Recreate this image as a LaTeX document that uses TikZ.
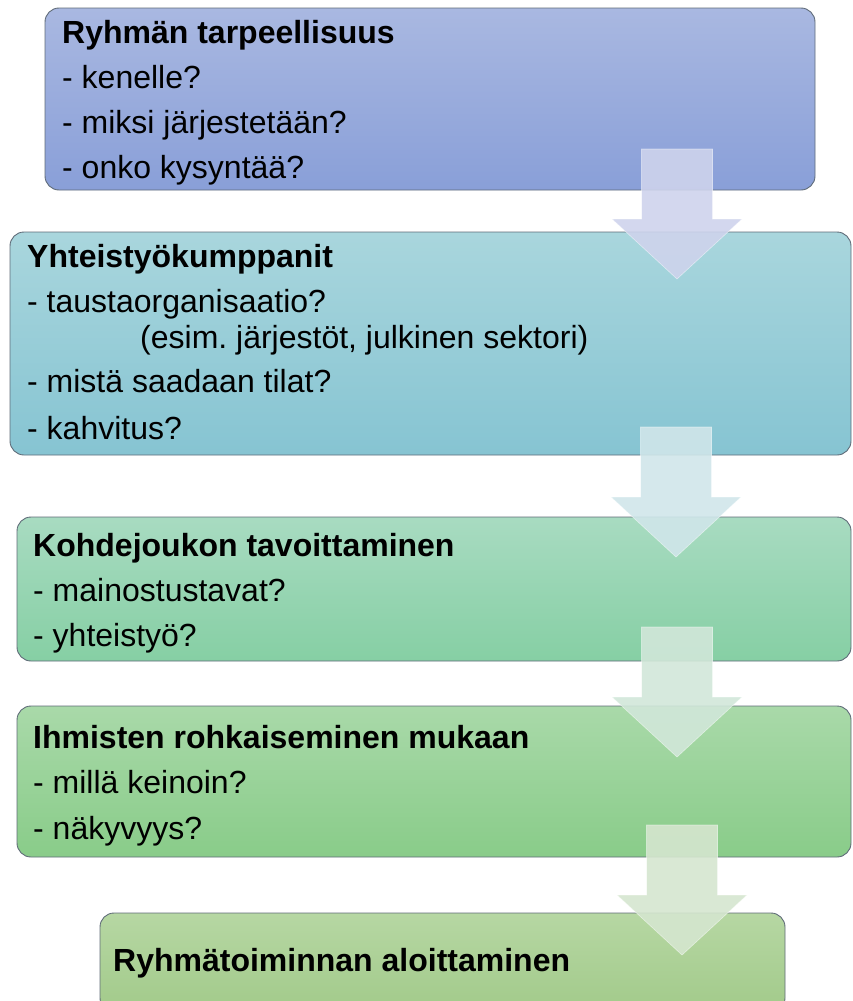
\documentclass[tikz,border=0pt]{standalone}
\usepackage{fontspec}
\setmainfont{Liberation Sans}
\usetikzlibrary{calc}
\frenchspacing

% box gradients (top / bottom)
\definecolor{boxAtop}{HTML}{A9B8E1}\definecolor{boxAbot}{HTML}{899FD8}
\definecolor{boxBtop}{HTML}{A9D6DD}\definecolor{boxBbot}{HTML}{86C4D2}
\definecolor{boxCtop}{HTML}{A8DBC1}\definecolor{boxCbot}{HTML}{86CFA4}
\definecolor{boxDtop}{HTML}{A9D9A9}\definecolor{boxDbot}{HTML}{89CC89}
\definecolor{boxEtop}{HTML}{B6D7A3}\definecolor{boxEbot}{HTML}{A2CA8A}
\definecolor{boxline}{HTML}{5F6B78}
% arrow fills
\definecolor{arrA}{HTML}{CED3EC}
\definecolor{arrB}{HTML}{D0E6EA}
\definecolor{arrC}{HTML}{D1E7D9}
\definecolor{arrD}{HTML}{D5E6CF}

\tikzset{
  stage/.style={draw=boxline, line width=0.9pt, rounded corners=14pt},
  title/.style={anchor=base west, inner sep=0pt, font=\fontsize{32}{38}\selectfont\bfseries},
  item/.style={anchor=base west, inner sep=0pt, font=\fontsize{32}{38}\selectfont},
  flow/.style={fill opacity=0.9, draw opacity=0.5, line width=0.6pt},
}

\begin{document}
\begin{tikzpicture}[x=1pt,y=-1pt]
\useasboundingbox (0,0) rectangle (853,1001);

% stage boxes
\path[stage, top color=boxAtop, bottom color=boxAbot] (45,8) rectangle (815,190);
\path[stage, top color=boxBtop, bottom color=boxBbot] (10,232) rectangle (851,455);
\path[stage, top color=boxCtop, bottom color=boxCbot] (17,517) rectangle (851,661);
\path[stage, top color=boxDtop, bottom color=boxDbot] (17,706) rectangle (851,857);
\path[stage, top color=boxEtop, bottom color=boxEbot] (100,913) rectangle (785,1012);

% downward block arrows between stages
\coordinate (a1) at (677,149);
\coordinate (a2) at (676,427);
\coordinate (a3) at (677,627);
\coordinate (a4) at (682,825);
\foreach \c/\col in {a1/arrA, a2/arrB, a3/arrC, a4/arrD}{
  \fill[flow, fill=\col, draw=white]
    ($(\c)+(-35.5,0)$) -- ($(\c)+(35.5,0)$) -- ($(\c)+(35.5,70)$) --
    ($(\c)+(65,70)$) -- ($(\c)+(0,130)$) -- ($(\c)+(-65,70)$) --
    ($(\c)+(-35.5,70)$) -- cycle;
}

% texts of stage 1
\node[title] (t1) at (62,43) {Ryhmän tarpeellisuus};
\node[item] (t1a) at (62,88) {- kenelle?};
\node[item] (t1b) at (62,133) {- miksi järjestetään?};
\node[item] (t1c) at (62,178) {- onko kysyntää?};

% texts of stage 2
\node[title] (t2) at (27,267) {Yhteistyökumppanit};
\node[item] (t2a) at (27,312) {- taustaorganisaatio?};
\node[item] (t2b) at (140,348) {(esim. järjestöt, julkinen sektori)};
\node[item] (t2c) at (27,392) {- mistä saadaan tilat?};
\node[item] (t2d) at (27,439) {- kahvitus?};

% texts of stage 3
\node[title] (t3) at (33,556) {Kohdejoukon tavoittaminen};
\node[item] (t3a) at (33,601) {- mainostustavat?};
\node[item] (t3b) at (33,646) {- yhteistyö?};

% texts of stage 4
\node[title] (t4) at (33,748) {Ihmisten rohkaiseminen mukaan};
\node[item] (t4a) at (33,793) {- millä keinoin?};
\node[item] (t4b) at (33,839) {- näkyvyys?};

% final stage
\node[title] (t5) at (113,971) {Ryhmätoiminnan aloittaminen};
\end{tikzpicture}
\end{document}
